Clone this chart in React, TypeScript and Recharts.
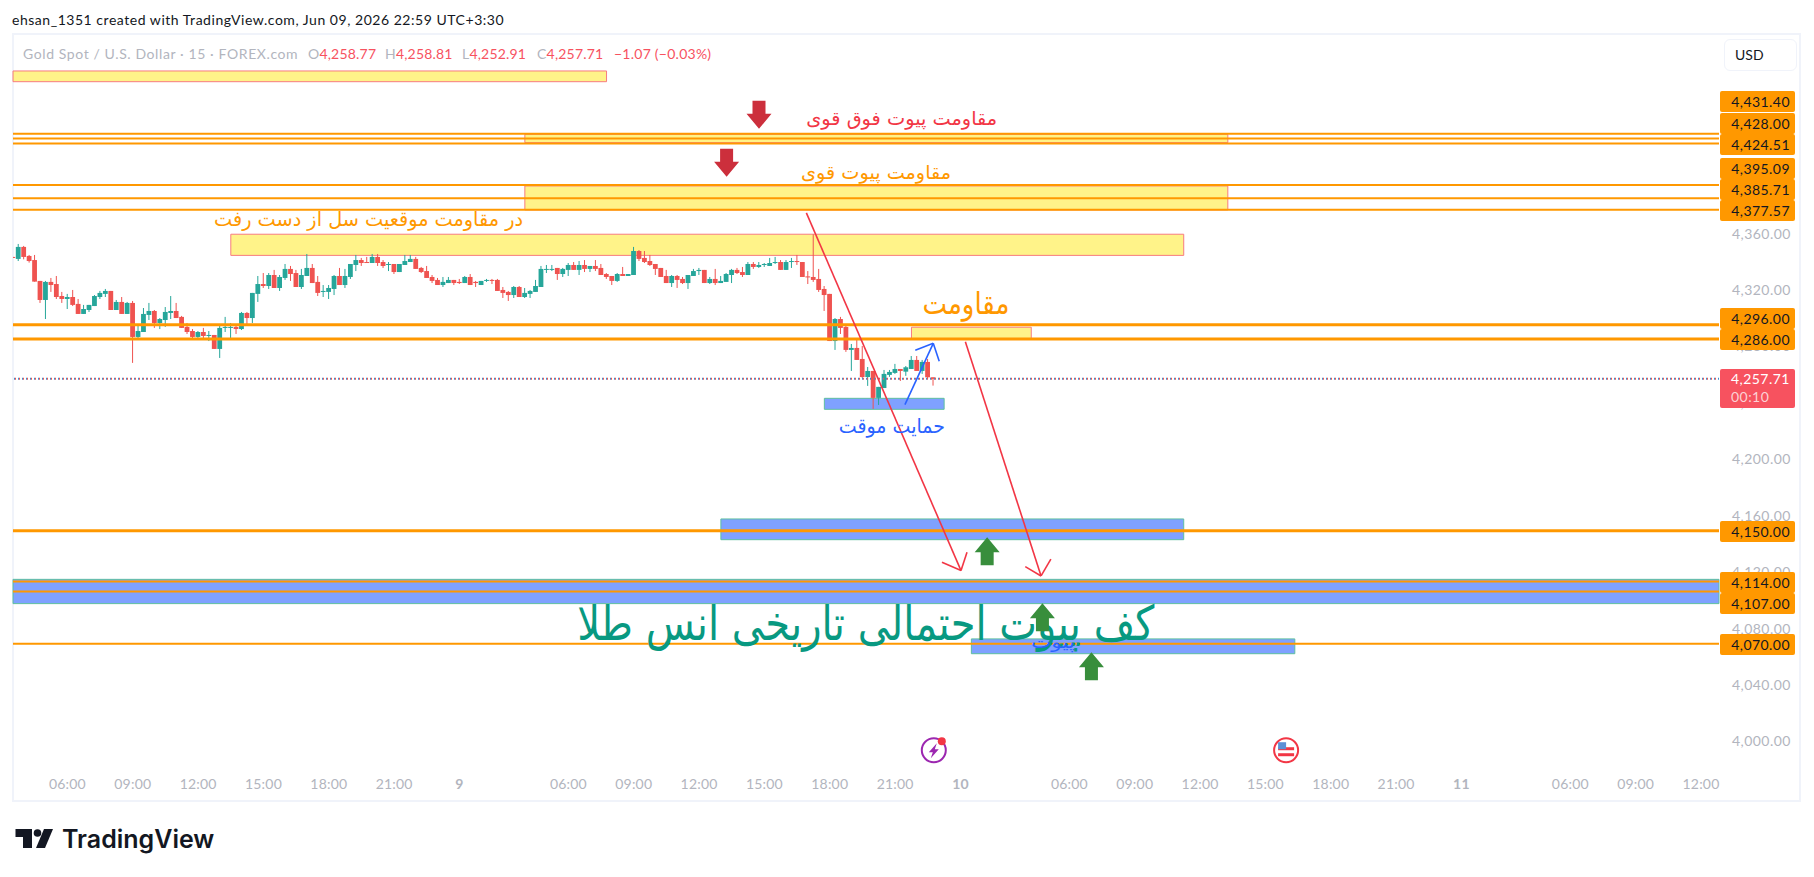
import React from 'react';
import {
    ComposedChart,
    Bar,
    XAxis,
    YAxis,
    ReferenceArea,
    ReferenceLine,
    ReferenceDot,
} from 'recharts';

// candle values, left to right
const opens = [
    4344.1, 4342.7, 4351.2, 4344.8, 4341.9, 4327.1, 4313.6, 4326.4, 4324.9, 4316.4,
    4314.3, 4315.7, 4310.8, 4303.7, 4306.5, 4309.3, 4315.7, 4317.9, 4320.0, 4306.5,
    4312.2, 4303.7, 4311.5, 4287.4, 4290.9, 4303.0, 4305.8, 4297.3, 4299.4, 4304.4,
    4305.8, 4301.6, 4294.5, 4291.6, 4287.4, 4290.9, 4288.1, 4288.8, 4278.9, 4293.8,
    4293.8, 4294.5, 4293.0, 4304.4, 4300.8, 4317.9, 4324.9, 4323.5, 4331.3, 4322.1,
    4329.2, 4335.6, 4332.7, 4322.8, 4330.6, 4336.3, 4326.4, 4319.3, 4319.3, 4321.4,
    4330.6, 4324.2, 4329.9, 4338.4, 4341.9, 4340.5, 4339.8, 4344.1, 4340.5, 4338.4,
    4339.1, 4333.4, 4338.4, 4340.5, 4342.7, 4336.3, 4334.1, 4329.9, 4327.8, 4324.2,
    4325.6, 4327.8, 4326.4, 4325.6, 4329.9, 4326.4, 4324.2, 4327.1, 4327.8, 4327.8,
    4320.7, 4319.3, 4317.1, 4322.8, 4315.7, 4317.9, 4319.3, 4322.8, 4334.9, 4334.9,
    4336.3, 4332.0, 4334.9, 4338.4, 4334.9, 4338.4, 4335.6, 4337.7, 4336.3, 4332.0,
    4330.6, 4327.1, 4332.0, 4330.6, 4331.3, 4348.3, 4343.4, 4341.2, 4339.1, 4336.3,
    4330.6, 4325.6, 4330.6, 4328.5, 4325.6, 4330.6, 4334.1, 4334.9, 4325.6, 4328.5,
    4325.6, 4326.4, 4331.3, 4334.9, 4333.4, 4331.3, 4339.1, 4337.0, 4338.4, 4337.7,
    4339.8, 4340.5, 4334.9, 4340.5, 4341.2, 4340.5, 4330.3, 4329.9, 4328.5, 4321.4,
    4317.9, 4284.5, 4300.1, 4294.5, 4278.2, 4279.6, 4271.8, 4259.0, 4263.3, 4244.2,
    4251.2, 4260.5, 4261.9, 4264.7, 4262.8, 4264.7, 4271.1, 4263.3, 4269.7, 4258.77,
];
const highs = [
    4344.2, 4353.3, 4351.9, 4345.5, 4345.5, 4327.1, 4327.1, 4329.2, 4330.6, 4319.3,
    4317.9, 4320.7, 4314.3, 4310.1, 4310.1, 4317.1, 4320.0, 4321.4, 4320.0, 4313.6,
    4315.7, 4312.2, 4312.9, 4295.9, 4307.9, 4311.5, 4306.5, 4300.8, 4308.6, 4316.4,
    4311.5, 4302.3, 4297.3, 4293.0, 4291.6, 4293.8, 4291.6, 4288.8, 4295.9, 4301.6,
    4297.3, 4295.9, 4305.1, 4305.1, 4318.6, 4330.6, 4332.7, 4332.7, 4334.9, 4331.3,
    4339.1, 4337.7, 4334.9, 4335.6, 4346.2, 4339.1, 4330.6, 4324.2, 4324.2, 4331.3,
    4336.3, 4335.6, 4339.1, 4345.5, 4343.4, 4344.1, 4346.2, 4346.2, 4341.9, 4340.5,
    4339.1, 4339.1, 4345.5, 4345.5, 4344.1, 4337.0, 4337.7, 4331.3, 4329.2, 4329.9,
    4329.9, 4327.8, 4328.5, 4330.6, 4332.0, 4327.1, 4327.1, 4328.5, 4328.5, 4328.5,
    4322.8, 4320.0, 4323.5, 4323.5, 4322.1, 4320.7, 4327.8, 4337.7, 4338.4, 4338.4,
    4336.3, 4336.3, 4339.8, 4340.5, 4341.2, 4341.9, 4337.7, 4341.9, 4339.1, 4332.7,
    4330.6, 4332.7, 4337.0, 4332.0, 4351.2, 4349.0, 4348.3, 4345.5, 4339.1, 4336.3,
    4334.9, 4331.3, 4331.3, 4329.9, 4331.3, 4335.6, 4336.3, 4334.9, 4329.9, 4335.6,
    4330.6, 4332.7, 4335.6, 4336.3, 4337.0, 4340.5, 4340.5, 4340.5, 4339.8, 4343.4,
    4344.1, 4341.9, 4341.9, 4343.4, 4345.5, 4340.5, 4334.1, 4360.1, 4335.6, 4323.5,
    4317.9, 4300.8, 4301.6, 4296.6, 4282.4, 4286.0, 4281.0, 4266.1, 4263.3, 4252.0,
    4264.0, 4264.0, 4268.3, 4264.7, 4266.8, 4273.9, 4273.9, 4271.1, 4271.8, 4258.81,
];
const lows = [
    4343.4, 4341.2, 4342.4, 4340.1, 4326.6, 4311.5, 4300.1, 4319.3, 4314.3, 4311.5,
    4307.2, 4309.3, 4303.7, 4303.7, 4305.1, 4309.3, 4314.3, 4315.7, 4306.5, 4306.5,
    4303.7, 4303.7, 4269.0, 4285.3, 4290.9, 4299.4, 4293.8, 4293.0, 4294.5, 4300.1,
    4300.8, 4293.8, 4289.5, 4285.3, 4286.7, 4285.3, 4284.5, 4278.9, 4272.5, 4290.9,
    4286.0, 4289.5, 4292.3, 4296.6, 4297.3, 4312.2, 4322.1, 4321.4, 4322.1, 4320.0,
    4327.8, 4327.1, 4322.8, 4321.4, 4330.6, 4325.6, 4316.4, 4315.7, 4314.3, 4317.1,
    4324.2, 4322.1, 4328.5, 4334.1, 4337.7, 4339.8, 4339.8, 4337.7, 4336.3, 4334.1,
    4332.0, 4333.4, 4338.4, 4340.5, 4335.6, 4332.7, 4329.2, 4325.6, 4324.2, 4322.8,
    4325.6, 4324.2, 4324.9, 4325.6, 4324.2, 4322.8, 4324.2, 4326.4, 4324.9, 4320.0,
    4315.0, 4312.9, 4315.0, 4315.7, 4315.0, 4315.0, 4319.3, 4322.8, 4332.7, 4334.1,
    4327.8, 4329.9, 4330.6, 4334.9, 4331.3, 4333.4, 4333.4, 4334.1, 4331.3, 4328.5,
    4324.2, 4326.4, 4330.6, 4330.6, 4331.3, 4341.2, 4339.8, 4337.7, 4331.3, 4329.9,
    4325.6, 4322.8, 4322.1, 4324.9, 4321.4, 4330.6, 4331.3, 4325.6, 4324.9, 4324.2,
    4325.6, 4326.4, 4325.6, 4332.0, 4329.9, 4331.3, 4335.6, 4336.3, 4337.0, 4337.7,
    4339.1, 4334.9, 4334.9, 4336.3, 4338.4, 4329.9, 4324.9, 4326.4, 4319.3, 4305.8,
    4284.5, 4278.2, 4289.5, 4276.8, 4263.3, 4271.1, 4258.3, 4252.7, 4236.4, 4239.2,
    4251.2, 4259.1, 4261.2, 4256.2, 4259.8, 4264.7, 4263.3, 4261.2, 4257.6, 4252.91,
];
const closes = [
    4343.6, 4351.2, 4344.1, 4341.2, 4326.6, 4313.6, 4326.4, 4324.2, 4315.7, 4314.3,
    4315.7, 4310.1, 4303.7, 4307.2, 4310.1, 4316.4, 4318.6, 4320.0, 4306.5, 4312.2,
    4303.7, 4311.5, 4287.4, 4291.6, 4303.7, 4305.8, 4297.3, 4300.1, 4305.1, 4305.8,
    4300.8, 4293.8, 4290.9, 4287.4, 4290.9, 4288.1, 4288.8, 4278.9, 4293.8, 4294.5,
    4294.5, 4293.0, 4304.4, 4300.8, 4318.6, 4324.9, 4323.5, 4331.3, 4322.1, 4329.9,
    4335.6, 4332.0, 4322.8, 4331.3, 4336.3, 4325.6, 4318.6, 4320.0, 4322.1, 4330.6,
    4324.2, 4330.6, 4339.1, 4341.9, 4339.8, 4339.8, 4344.1, 4339.8, 4337.7, 4339.1,
    4333.4, 4339.1, 4341.2, 4342.7, 4335.6, 4333.4, 4329.2, 4327.1, 4324.2, 4326.4,
    4327.8, 4325.6, 4325.6, 4329.9, 4324.2, 4325.6, 4327.1, 4327.8, 4327.1, 4320.0,
    4318.6, 4317.1, 4322.8, 4315.7, 4318.6, 4320.0, 4323.5, 4335.6, 4335.6, 4335.6,
    4332.0, 4335.6, 4338.4, 4334.9, 4338.4, 4335.6, 4337.7, 4335.6, 4331.3, 4329.9,
    4327.1, 4332.0, 4330.6, 4332.0, 4348.3, 4342.7, 4340.5, 4338.4, 4335.6, 4329.9,
    4325.6, 4330.6, 4327.8, 4325.6, 4331.3, 4334.1, 4334.9, 4325.6, 4328.5, 4325.6,
    4327.1, 4332.0, 4334.9, 4332.7, 4331.3, 4339.1, 4337.0, 4338.4, 4339.1, 4339.8,
    4340.5, 4334.9, 4340.5, 4341.2, 4340.5, 4329.9, 4329.9, 4327.8, 4320.7, 4317.1,
    4284.5, 4300.1, 4293.8, 4278.2, 4279.6, 4271.1, 4259.0, 4263.3, 4244.2, 4252.0,
    4261.2, 4262.6, 4264.7, 4263.3, 4265.9, 4271.1, 4263.3, 4269.7, 4258.8, 4257.71,
];

const candles = opens.map((open, i) => ({
    i,
    open,
    close: closes[i],
    high: highs[i],
    low: lows[i],
    range: [lows[i], highs[i]],
}));

// axis ticks
const priceTicks = [4000, 4040, 4080, 4120, 4160, 4200, 4240, 4280, 4320, 4360];
const timeTicks = [10, 22, 34, 46, 58, 70, 82, 102, 114, 126, 138, 150, 162, 174, 194, 206, 218, 230, 242, 254, 266, 286, 298, 310];
const timeLabels = ['06:00', '09:00', '12:00', '15:00', '18:00', '21:00', '9', '06:00', '09:00', '12:00', '15:00', '18:00', '21:00', '10', '06:00', '09:00', '12:00', '15:00', '18:00', '21:00', '11', '06:00', '09:00', '12:00'];

// horizontal levels, some sit under the zones and some over them
const levelsUnder = [4431.4, 4428, 4424.51, 4395.09, 4377.57, 4296, 4286, 4150, 4114, 4070];
const levelsOver = [4385.71, 4107];
const thickLevels = [4296, 4286, 4150];

// [left candle, right candle, top price, bottom price]
const yellowZones = [
    [0, 109, 4475.9, 4468.3],
    [94, 223.1, 4431, 4425.1],
    [94, 223.1, 4394.4, 4377.4],
    [40, 215, 4360.2, 4345.2],
    [165, 187, 4294.3, 4286.1],
];
const blueZones = [
    [149, 171, 4243.9, 4236.1],
    [130, 215, 4158.4, 4143.7],
    [0, 313.3, 4115.6, 4098.4],
    [176, 235.4, 4073.4, 4062.9],
];

// drawn lines, [start candle, start price, end candle, end price]
const redLines = [
    [145.7, 4375.3, 174.1, 4121.8],
    [170.6, 4127.7, 174.1, 4121.8],
    [175.2, 4134.8, 174.1, 4121.8],
    [174.9, 4284.0, 188.8, 4118.0],
    [185.9, 4124.6, 188.8, 4118.0],
    [190.6, 4130.0, 188.8, 4118.0],
];
const blueLines = [
    [163.8, 4239.4, 169.0, 4282.9],
    [165.7, 4278.0, 169.0, 4282.9],
    [170.1, 4270.2, 169.0, 4282.9],
];

// block arrows, [candle, tip price]
const downArrows = [[137, 4434.9], [131.05, 4401]];
const upArrows = [[178.9, 4145.4], [189.05, 4098.7], [198.05, 4063.9]];

// [text, candle at text centre, price at text centre, colour, font size, text width]
const notes = [
    ['مقاومت پیوت فوق قوی', 163.2, 4442.5, '#f23645', 19, 191],
    ['مقاومت پیوت قوی', 158.5, 4404, '#ff9800', 19, 150],
    ['در مقاومت موقعیت سل از دست رفت', 65.3, 4371, '#ff9800', 20, 309],
    ['مقاومت', 175, 4311, '#ff9800', 30, 87],
    ['حمایت موقت', 161.4, 4224, '#2962ff', 20, 106],
    ['کف پیوت احتمالی تاریخی انس طلا', 156.6, 4085, '#089981', 48, 577],
    ['پیوت', 191, 4071, '#2962ff', 17, 44],
];

// orange tags on the price scale, pushed apart the way the app does it
const tagLabels = ['4,431.40', '4,428.00', '4,424.51', '4,395.09', '4,385.71', '4,377.57', '4,296.00', '4,286.00', '4,150.00', '4,114.00', '4,107.00', '4,070.00'];
const tagTops = [91, 113.3, 134.3, 158, 178.7, 200, 308, 329, 521, 572, 592.7, 634];

const CHART_W = 1814;
const CHART_H = 877;
const MAX_X = 313.3;
const GREY = '#b2b5be';
const UP = '#26a69a';
const DOWN = '#ef5350';
const ORANGE = '#ff9800';
const UI_FONT = 'Lato, "Open Sans", sans-serif';

const Candle = (props: any) => {
    const { x, y, width, height, payload } = props;
    const unit = height / (payload.high - payload.low);
    const cx = x + width / 2;
    const top = y + (payload.high - Math.max(payload.open, payload.close)) * unit;
    const bodyH = Math.max(Math.abs(payload.open - payload.close) * unit, 1);
    const color = payload.close >= payload.open ? UP : DOWN;
    return (
        <g>
            <line x1={cx} x2={cx} y1={y} y2={y + height} stroke={color} strokeWidth={1} />
            <rect x={cx - 2.4} y={top} width={4.8} height={bodyH} fill={color} />
        </g>
    );
};

const TimeTick = (props: any) => {
    const { x, y, payload } = props;
    const label = timeLabels[timeTicks.indexOf(payload.value)];
    return (
        <text x={x} y={y + 13} textAnchor="middle" fontSize={14} letterSpacing={0.2} fontFamily={UI_FONT} fontWeight={label.length < 3 ? 700 : 400} fill={GREY}>
            {label}
        </text>
    );
};

const PriceTick = (props: any) => {
    const { x, y, payload } = props;
    return (
        <text x={x + 5} y={y + 4} fontSize={14} letterSpacing={0.45} fontFamily={UI_FONT} fill={GREY}>
            {payload.value.toLocaleString('en-US', { minimumFractionDigits: 2 })}
        </text>
    );
};

const Note = (props: any, note: any[]) => (
    <text
        x={props.cx}
        y={props.cy}
        textAnchor="middle"
        dominantBaseline="central"
        direction="rtl"
        fontFamily='"DejaVu Sans"'
        fontSize={note[4]}
        fill={note[3]}
        textLength={note[5]}
        lengthAdjust="spacingAndGlyphs"
    >
        {note[0]}
    </text>
);

const DownArrow = ({ cx, cy }: any) => (
    <polygon
        points={`${cx},${cy} ${cx - 12.5},${cy - 15} ${cx - 6.5},${cy - 15} ${cx - 6.5},${cy - 28} ${cx + 6.5},${cy - 28} ${cx + 6.5},${cy - 15} ${cx + 12.5},${cy - 15}`}
        fill="#cc2f3c"
    />
);

const UpArrow = ({ cx, cy }: any) => (
    <polygon
        points={`${cx},${cy} ${cx - 12.5},${cy + 15} ${cx - 6.5},${cy + 15} ${cx - 6.5},${cy + 28} ${cx + 6.5},${cy + 28} ${cx + 6.5},${cy + 15} ${cx + 12.5},${cy + 15}`}
        fill="#388e3c"
    />
);

const EventBolt = ({ cx, cy }: any) => (
    <g>
        <circle cx={cx} cy={cy} r={12} fill="#fff" stroke="#9c27b0" strokeWidth={2} />
        <polygon points={`${cx + 3},${cy - 7} ${cx - 5},${cy + 2} ${cx - 1},${cy + 2} ${cx - 3},${cy + 8} ${cx + 5},${cy - 1} ${cx + 1},${cy - 1}`} fill="#9c27b0" />
        <circle cx={cx + 8} cy={cy - 9} r={4} fill="#f23645" />
    </g>
);

const EventFlag = ({ cx, cy }: any) => (
    <g>
        <circle cx={cx} cy={cy} r={12} fill="#fff" stroke="#f23645" strokeWidth={2} />
        <rect x={cx - 8} y={cy + 3} width={16} height={3} fill="#f23645" />
        <rect x={cx - 8} y={cy - 3} width={16} height={3} fill="#f23645" />
        <rect x={cx - 8} y={cy - 8} width={8} height={7} fill="#5b8fd6" />
    </g>
);

const TradingViewLogo = () => (
    <svg style={{ position: 'absolute', left: 15, top: 828 }} width={40} height={22}>
        <polygon points="0.5,1 17,1 17,20 8,20 8,9 0.5,9" fill="#131722" />
        <circle cx={22.5} cy={5} r={3.8} fill="#131722" />
        <polygon points="29,1 38,1 30,20 21,20" fill="#131722" />
    </svg>
);

const abs = (left: number, top: number, extra: React.CSSProperties = {}): React.CSSProperties => ({
    position: 'absolute',
    left,
    top,
    fontFamily: UI_FONT,
    whiteSpace: 'pre',
    ...extra,
});

const App = () => {
    return (
        <div style={{ position: 'absolute', left: 0, top: 0, width: CHART_W, height: CHART_H, background: '#fff', overflow: 'hidden' }}>
            <div style={abs(12, 12, { fontSize: 14, lineHeight: '16px', letterSpacing: 0.53, color: '#131722' })}>
                ehsan_1351 created with TradingView.com, Jun 09, 2026 22:59 UTC+3:30
            </div>
            <div style={{ position: 'absolute', left: 12, top: 33, width: 1789, height: 769, boxSizing: 'border-box', border: '2px solid #f0f3fa' }} />

            <ComposedChart
                style={{ position: 'absolute', left: 0, top: 0 }}
                width={CHART_W}
                height={CHART_H}
                data={candles}
                margin={{ top: 34, right: 0, bottom: 77, left: 13 }}
            >
                <XAxis
                    type="number"
                    dataKey="i"
                    domain={[0, MAX_X]}
                    allowDataOverflow
                    ticks={timeTicks}
                    interval={0}
                    height={32}
                    axisLine={false}
                    tickLine={false}
                    tick={TimeTick}
                />
                <YAxis
                    orientation="right"
                    domain={[3981.9, 4502.1]}
                    allowDataOverflow
                    ticks={priceTicks}
                    interval={0}
                    width={95}
                    axisLine={false}
                    tickLine={false}
                    tick={PriceTick}
                />
                <Bar dataKey="range" barSize={5} shape={Candle} isAnimationActive={false} />
                <ReferenceLine y={4257.71} stroke="#3f8fcf" strokeWidth={2} strokeDasharray="1 3" />
                <ReferenceLine y={4257.71} stroke="#ef5350" strokeWidth={2} strokeDasharray="1 3" strokeDashoffset={1} />
                {levelsUnder.map((y) => (
                    <ReferenceLine key={y} y={y} stroke={ORANGE} strokeWidth={thickLevels.includes(y) ? 3 : 2} />
                ))}
                {yellowZones.map((z, n) => (
                    <ReferenceArea key={n} x1={z[0]} x2={z[1]} y1={z[3]} y2={z[2]} fill="#ffeb3b" fillOpacity={0.6} stroke="#f77c80" strokeWidth={1} />
                ))}
                {blueZones.map((z, n) => (
                    <ReferenceArea key={n} x1={z[0]} x2={z[1]} y1={z[3]} y2={z[2]} fill="#2962ff" fillOpacity={0.6} stroke="#5fbfa0" strokeWidth={1} />
                ))}
                {levelsOver.map((y) => (
                    <ReferenceLine key={y} y={y} stroke={ORANGE} strokeWidth={2} />
                ))}
                {redLines.map((s, n) => (
                    <ReferenceLine key={n} segment={[{ x: s[0], y: s[1] }, { x: s[2], y: s[3] }]} stroke="#f23645" strokeWidth={1.6} />
                ))}
                {blueLines.map((s, n) => (
                    <ReferenceLine key={n} segment={[{ x: s[0], y: s[1] }, { x: s[2], y: s[3] }]} stroke="#2962ff" strokeWidth={1.6} />
                ))}
                {notes.map((note, n) => (
                    <ReferenceDot key={n} x={note[1] as number} y={note[2] as number} shape={(p: any) => Note(p, note)} />
                ))}
                {downArrows.map((a, n) => (
                    <ReferenceDot key={n} x={a[0]} y={a[1]} shape={DownArrow} />
                ))}
                {upArrows.map((a, n) => (
                    <ReferenceDot key={n} x={a[0]} y={a[1]} shape={UpArrow} />
                ))}
                <ReferenceDot x={169.1} y={3994.5} shape={EventBolt} />
                <ReferenceDot x={233.8} y={3994.5} shape={EventFlag} />
            </ComposedChart>

            <div style={abs(23, 45, { fontSize: 14, lineHeight: '18px', letterSpacing: 0.6, color: GREY })}>Gold Spot / U.S. Dollar · 15 · FOREX.com</div>
            {[['O', '4,258.77', 308], ['H', '4,258.81', 385], ['L', '4,252.91', 462], ['C', '4,257.71', 537]].map((v) => (
                <div key={v[0] as string} style={abs(v[2] as number, 45, { fontSize: 14, lineHeight: '18px', letterSpacing: 0.2, color: GREY })}>
                    {v[0]}
                    <span style={{ color: '#f7525f' }}>{v[1]}</span>
                </div>
            ))}
            <div style={abs(614, 45, { fontSize: 14, lineHeight: '18px', letterSpacing: 0.25, color: '#f7525f' })}>−1.07 (−0.03%)</div>

            <div style={{ position: 'absolute', left: 1724, top: 39, width: 73, height: 32, boxSizing: 'border-box', border: '1px solid #f0f3fa', borderRadius: 6 }} />
            <div style={abs(1735, 46, { fontSize: 14, lineHeight: '18px', color: '#131722' })}>USD</div>

            {tagLabels.map((label, n) => (
                <div key={label} style={abs(1720, tagTops[n], { width: 75, height: 21, boxSizing: 'border-box', paddingRight: 5, background: ORANGE, borderRadius: 2, color: '#131722', fontSize: 14, letterSpacing: 0.45, lineHeight: '21px', textAlign: 'right' })}>
                    {label}
                </div>
            ))}
            <div style={abs(1720, 369, { width: 75, height: 39, boxSizing: 'border-box', background: '#f7525f', borderRadius: 2, color: '#fff', fontSize: 14, letterSpacing: 0.45, lineHeight: '18px', paddingTop: 1, textAlign: 'left', paddingLeft: 11 })}>
                4,257.71
                <br />
                <span style={{ color: '#fcd0d4' }}>00:10</span>
            </div>

            <TradingViewLogo />
            <div style={abs(62, 823, { fontFamily: 'Inter, sans-serif', fontSize: 25, fontWeight: 600, lineHeight: '32px', color: '#131722' })}>TradingView</div>
        </div>
    );
};

export default App;
